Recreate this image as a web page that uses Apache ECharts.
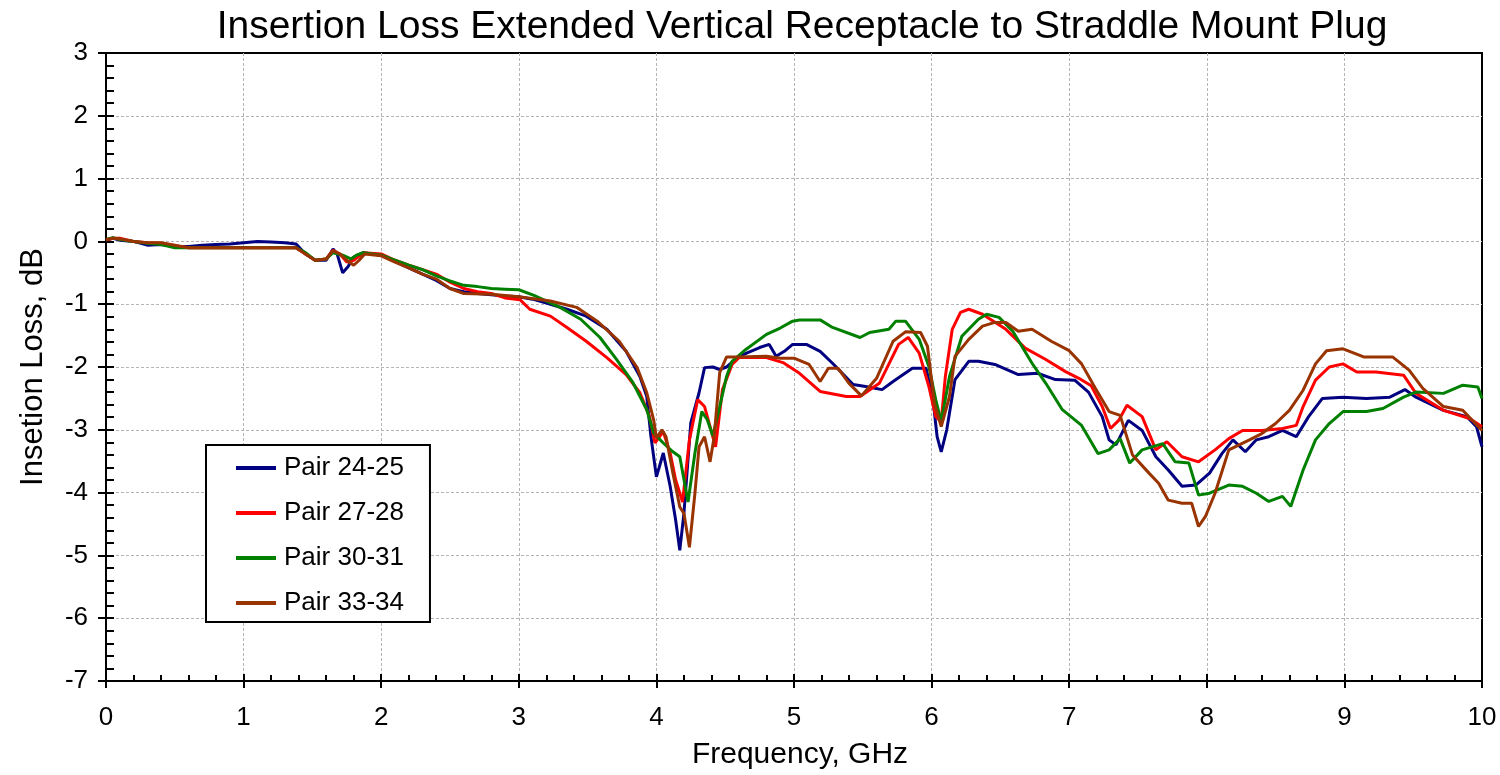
<!DOCTYPE html>
<html>
<head>
<meta charset="utf-8">
<script src="https://cdn.jsdelivr.net/npm/echarts@6/dist/echarts.min.js"></script>
<style>
  html, body { margin: 0; padding: 0; background: #fff; }
  #chart { width: 1500px; height: 775px; }
</style>
</head>
<body>
<div id="chart"></div>
<script>
// insertion loss, [frequency GHz, dB]
const seriesNames = ["Pair 24-25", "Pair 27-28", "Pair 30-31", "Pair 33-34"];
const seriesColors = ["#000080", "#ff0000", "#008000", "#993300"];
const xTicks = [0, 1, 2, 3, 4, 5, 6, 7, 8, 9, 10];
const yTicks = [3, 2, 1, 0, -1, -2, -3, -4, -5, -6, -7];

const pair2425 = [[0,0.02],[0.05,0.05],[0.1,0.02],[0.2,0],[0.3,-0.06],[0.4,-0.05],[0.5,-0.08],[0.6,-0.08],[0.7,-0.06],[0.8,-0.05],[0.9,-0.04],[1.0,-0.02],[1.1,0],[1.2,-0.01],[1.3,-0.02],[1.38,-0.04],[1.45,-0.2],[1.52,-0.3],[1.6,-0.3],[1.65,-0.12],[1.68,-0.2],[1.72,-0.5],[1.76,-0.4],[1.8,-0.25],[1.87,-0.18],[2.0,-0.22],[2.1,-0.32],[2.2,-0.42],[2.3,-0.52],[2.4,-0.62],[2.5,-0.75],[2.6,-0.8],[2.7,-0.83],[2.8,-0.85],[2.9,-0.87],[3.0,-0.88],[3.1,-0.92],[3.2,-0.98],[3.35,-1.08],[3.49,-1.19],[3.64,-1.4],[3.78,-1.75],[3.88,-2.15],[3.93,-2.47],[3.96,-3.1],[4.0,-3.75],[4.02,-3.6],[4.05,-3.37],[4.1,-3.9],[4.14,-4.44],[4.17,-4.92],[4.2,-4.33],[4.25,-2.89],[4.31,-2.41],[4.35,-2.01],[4.41,-2.0],[4.46,-2.04],[4.51,-2.0],[4.6,-1.83],[4.75,-1.69],[4.82,-1.64],[4.87,-1.83],[4.93,-1.75],[4.99,-1.64],[5.09,-1.64],[5.19,-1.75],[5.28,-1.94],[5.43,-2.28],[5.52,-2.31],[5.64,-2.36],[5.72,-2.23],[5.86,-2.02],[5.96,-2.02],[6.01,-2.52],[6.04,-3.11],[6.07,-3.35],[6.11,-3.0],[6.17,-2.2],[6.27,-1.91],[6.34,-1.91],[6.46,-1.96],[6.63,-2.12],[6.77,-2.1],[6.9,-2.2],[7.04,-2.21],[7.14,-2.4],[7.24,-2.79],[7.29,-3.16],[7.34,-3.24],[7.43,-2.85],[7.53,-3.01],[7.63,-3.43],[7.72,-3.64],[7.82,-3.9],[7.92,-3.88],[8.02,-3.69],[8.11,-3.38],[8.19,-3.16],[8.28,-3.35],[8.36,-3.16],[8.45,-3.11],[8.55,-3.01],[8.65,-3.11],[8.74,-2.79],[8.84,-2.5],[8.99,-2.48],[9.16,-2.5],[9.33,-2.48],[9.44,-2.36],[9.52,-2.48],[9.72,-2.69],[9.89,-2.79],[9.96,-2.95],[10.0,-3.27]];

const pair2728 = [[0,0.02],[0.05,0.05],[0.1,0.05],[0.2,0],[0.3,-0.02],[0.4,-0.03],[0.5,-0.07],[0.6,-0.1],[0.8,-0.1],[1.0,-0.1],[1.2,-0.1],[1.38,-0.1],[1.45,-0.2],[1.52,-0.3],[1.6,-0.28],[1.65,-0.14],[1.7,-0.2],[1.75,-0.33],[1.8,-0.3],[1.87,-0.18],[2.0,-0.2],[2.1,-0.3],[2.2,-0.38],[2.3,-0.45],[2.4,-0.52],[2.5,-0.65],[2.6,-0.75],[2.7,-0.8],[2.8,-0.83],[2.9,-0.9],[3.01,-0.93],[3.08,-1.08],[3.23,-1.19],[3.35,-1.37],[3.49,-1.59],[3.64,-1.85],[3.78,-2.12],[3.88,-2.41],[3.95,-2.79],[3.99,-3.21],[4.05,-3.03],[4.1,-3.37],[4.14,-3.8],[4.19,-4.15],[4.24,-3.16],[4.3,-2.52],[4.35,-2.63],[4.43,-3.27],[4.48,-2.36],[4.55,-1.96],[4.6,-1.85],[4.8,-1.85],[4.92,-1.93],[5.04,-2.1],[5.19,-2.39],[5.38,-2.47],[5.48,-2.47],[5.62,-2.26],[5.76,-1.64],[5.83,-1.53],[5.91,-1.78],[5.98,-2.31],[6.03,-2.79],[6.07,-2.87],[6.1,-2.15],[6.15,-1.4],[6.21,-1.13],[6.27,-1.08],[6.37,-1.16],[6.54,-1.4],[6.68,-1.7],[6.83,-1.88],[6.97,-2.07],[7.07,-2.18],[7.16,-2.3],[7.24,-2.63],[7.3,-2.98],[7.36,-2.85],[7.42,-2.61],[7.53,-2.79],[7.63,-3.32],[7.71,-3.19],[7.82,-3.43],[7.94,-3.51],[8.06,-3.32],[8.16,-3.14],[8.26,-3.01],[8.4,-3.01],[8.55,-2.98],[8.65,-2.93],[8.7,-2.63],[8.79,-2.21],[8.89,-2.0],[8.99,-1.95],[9.09,-2.08],[9.23,-2.08],[9.43,-2.13],[9.52,-2.42],[9.72,-2.69],[9.91,-2.82],[10.0,-2.95]];

const pair3031 = [[0,0.03],[0.05,0.06],[0.1,0.03],[0.2,0],[0.3,-0.03],[0.4,-0.05],[0.5,-0.1],[0.6,-0.1],[0.8,-0.1],[1.0,-0.1],[1.2,-0.1],[1.38,-0.1],[1.45,-0.18],[1.52,-0.3],[1.6,-0.28],[1.65,-0.18],[1.72,-0.22],[1.78,-0.28],[1.82,-0.22],[1.87,-0.18],[2.0,-0.22],[2.1,-0.3],[2.2,-0.38],[2.3,-0.45],[2.4,-0.55],[2.5,-0.63],[2.6,-0.7],[2.7,-0.72],[2.8,-0.75],[2.9,-0.76],[3.0,-0.77],[3.11,-0.86],[3.3,-1.05],[3.45,-1.24],[3.59,-1.53],[3.71,-1.88],[3.83,-2.25],[3.93,-2.68],[3.98,-3.05],[4.05,-3.21],[4.12,-3.35],[4.17,-3.43],[4.23,-4.15],[4.28,-3.37],[4.33,-2.71],[4.37,-2.84],[4.41,-3.1],[4.46,-2.63],[4.51,-2.15],[4.55,-1.91],[4.65,-1.72],[4.8,-1.48],[4.9,-1.38],[4.99,-1.27],[5.04,-1.25],[5.19,-1.25],[5.28,-1.37],[5.48,-1.53],[5.55,-1.45],[5.69,-1.4],[5.74,-1.27],[5.81,-1.27],[5.91,-1.56],[5.98,-1.99],[6.03,-2.52],[6.07,-2.87],[6.13,-2.15],[6.22,-1.51],[6.34,-1.24],[6.4,-1.16],[6.49,-1.21],[6.59,-1.43],[6.73,-1.94],[6.83,-2.26],[6.95,-2.68],[7.09,-2.93],[7.21,-3.38],[7.29,-3.32],[7.37,-3.14],[7.44,-3.53],[7.53,-3.32],[7.68,-3.22],[7.77,-3.51],[7.87,-3.53],[7.94,-4.04],[8.02,-4.01],[8.16,-3.88],[8.26,-3.9],[8.36,-4.01],[8.45,-4.14],[8.55,-4.06],[8.61,-4.22],[8.7,-3.64],[8.79,-3.16],[8.89,-2.9],[8.99,-2.71],[9.16,-2.71],[9.28,-2.66],[9.43,-2.48],[9.52,-2.4],[9.72,-2.42],[9.86,-2.29],[9.97,-2.32],[10.0,-2.5]];

const pair3334 = [[0,0.03],[0.05,0.05],[0.1,0.04],[0.2,0],[0.3,-0.02],[0.4,-0.02],[0.5,-0.06],[0.6,-0.1],[0.8,-0.1],[1.0,-0.1],[1.2,-0.1],[1.38,-0.1],[1.45,-0.2],[1.52,-0.3],[1.6,-0.28],[1.65,-0.15],[1.7,-0.2],[1.75,-0.3],[1.8,-0.38],[1.84,-0.3],[1.88,-0.2],[2.0,-0.23],[2.1,-0.33],[2.2,-0.42],[2.3,-0.52],[2.4,-0.6],[2.5,-0.75],[2.6,-0.83],[2.8,-0.84],[3.0,-0.88],[3.23,-0.95],[3.42,-1.05],[3.57,-1.27],[3.73,-1.59],[3.86,-2.01],[3.93,-2.41],[3.98,-2.84],[4.0,-3.13],[4.04,-3.0],[4.07,-3.11],[4.12,-3.69],[4.17,-4.23],[4.2,-4.33],[4.24,-4.87],[4.28,-4.01],[4.31,-3.27],[4.35,-3.11],[4.39,-3.51],[4.42,-3.11],[4.46,-2.09],[4.51,-1.84],[4.6,-1.84],[4.8,-1.83],[4.9,-1.86],[5.0,-1.86],[5.11,-1.96],[5.19,-2.23],[5.25,-2.02],[5.32,-2.02],[5.4,-2.26],[5.49,-2.46],[5.6,-2.18],[5.72,-1.59],[5.81,-1.44],[5.92,-1.45],[5.97,-1.67],[6.02,-2.58],[6.07,-2.95],[6.13,-2.47],[6.17,-1.83],[6.27,-1.56],[6.37,-1.35],[6.46,-1.29],[6.54,-1.29],[6.63,-1.43],[6.73,-1.4],[6.87,-1.59],[7.0,-1.74],[7.09,-1.95],[7.19,-2.34],[7.29,-2.71],[7.37,-2.77],[7.46,-3.4],[7.58,-3.69],[7.65,-3.85],[7.72,-4.12],[7.82,-4.17],[7.89,-4.17],[7.94,-4.54],[7.99,-4.38],[8.06,-4.01],[8.16,-3.32],[8.31,-3.16],[8.4,-3.06],[8.5,-2.9],[8.6,-2.69],[8.7,-2.37],[8.79,-1.95],[8.87,-1.74],[8.99,-1.71],[9.14,-1.84],[9.35,-1.84],[9.47,-2.05],[9.57,-2.34],[9.72,-2.63],[9.86,-2.69],[10.0,-3.01]];

const allSeries = [pair2425, pair2728, pair3031, pair3334];

const FONT = "'Liberation Sans', Arial, sans-serif";
const chart = echarts.init(document.getElementById("chart"));

const gridLine = {
  show: true, showMinLine: false, showMaxLine: false,
  lineStyle: { color: "#b4b4b4", type: [3, 2], width: 1 },
};
const tickStyle = { color: "#000", width: 2 };

const option = {
  backgroundColor: "#fff",
  animation: false,
  title: {
    text: "Insertion Loss Extended Vertical Receptacle to Straddle Mount Plug",
    left: 797,
    textAlign: "center",
    top: 3,
    textStyle: { fontFamily: FONT, fontSize: 39, fontWeight: "normal", color: "#000" },
  },
  grid: {
    left: 106, right: 18, top: 53, bottom: 93,
    show: true, borderColor: "#000", borderWidth: 2,
  },
  legend: {
    orient: "vertical",
    left: 206,
    top: 445,
    padding: [10, 26, 6, 30],
    itemGap: 19,
    itemWidth: 40,
    itemHeight: 4,
    icon: "rect",
    borderColor: "#000",
    borderWidth: 2,
    backgroundColor: "#fff",
    textStyle: { fontFamily: FONT, fontSize: 26, color: "#000", padding: [0, 0, 0, 3] },
    data: seriesNames,
  },
  xAxis: [
    {
      type: "value", min: 0, max: 10, interval: 1,
      name: "Frequency, GHz", nameLocation: "middle", nameGap: 59,
      nameTextStyle: { fontFamily: FONT, fontSize: 30, color: "#000", padding: [0, 0, 0, 12] },
      axisLine: { show: true, onZero: false, lineStyle: { color: "#000", width: 2 } },
      axisTick: { show: true, inside: true, length: 7, lineStyle: tickStyle },
      minorTick: { show: true, splitNumber: 5, length: 6, lineStyle: tickStyle },
      axisLabel: { margin: 24, fontFamily: FONT, fontSize: 26, color: "#000",
        formatter: (v) => xTicks.includes(v) ? String(v) : "" },
      splitLine: gridLine,
    },
    {
      type: "value", min: 0, max: 10, interval: 1, position: "bottom",
      axisLine: { show: false, onZero: false },
      axisTick: { show: true, inside: false, length: 7, lineStyle: tickStyle },
      axisLabel: { show: false },
      splitLine: { show: false },
    },
  ],
  yAxis: [
    {
      type: "value", min: -7, max: 3, interval: 1,
      name: "Insetion Loss, dB", nameLocation: "middle", nameGap: 57,
      nameTextStyle: { fontFamily: FONT, fontSize: 31, color: "#000" },
      axisLine: { show: true, onZero: false, lineStyle: { color: "#000", width: 2 } },
      axisTick: { show: true, inside: true, length: 8, lineStyle: tickStyle },
      minorTick: { show: true, splitNumber: 5, length: 8, lineStyle: tickStyle },
      axisLabel: { margin: 18, fontFamily: FONT, fontSize: 26, color: "#000",
        formatter: (v) => yTicks.includes(v) ? String(v) : "" },
      splitLine: gridLine,
    },
    {
      type: "value", min: -7, max: 3, interval: 1, position: "left",
      axisLine: { show: false, onZero: false },
      axisTick: { show: true, inside: false, length: 8, lineStyle: tickStyle },
      axisLabel: { show: false },
      splitLine: { show: false },
    },
  ],
  series: allSeries.map((d, i) => ({
    name: seriesNames[i],
    type: "line",
    xAxisIndex: 0,
    yAxisIndex: 0,
    showSymbol: false,
    symbol: "none",
    smooth: false,
    lineStyle: { color: seriesColors[i], width: 3 },
    itemStyle: { color: seriesColors[i] },
    data: d,
  })),
};

chart.setOption(option);
</script>
</body>
</html>
